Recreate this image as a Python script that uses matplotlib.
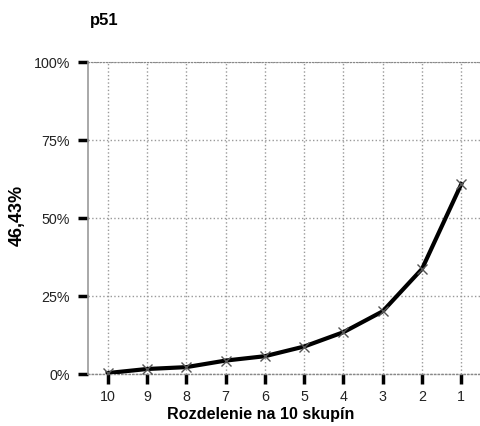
import numpy as np
import matplotlib
matplotlib.use('Agg')
import matplotlib.pyplot as plt

plt.rcParams['font.family'] = ['Liberation Sans', 'DejaVu Sans']

groups = ['10', '9', '8', '7', '6', '5', '4', '3', '2', '1']
values = [0.3, 1.6, 2.2, 4.3, 5.7, 8.8, 13.4, 20.1, 33.7, 60.9]
yticks = [0, 25, 50, 75, 100]
ylabels = ['0%', '25%', '50%', '75%', '100%']

fig = plt.figure(figsize=(4.81, 4.27), dpi=100)
ax = fig.add_axes([88 / 481, 52 / 427, 393 / 481, 312 / 427])

x = np.arange(len(groups))
ax.plot(x, values, color='black', lw=3, zorder=3)
ax.plot(x, values, ls='none', marker='x', ms=7, mew=1, color='#555555', zorder=4)

ax.set_xlim(-0.5, 9.5)
ax.set_ylim(0, 100)
ax.set_xticks(x)
ax.set_xticklabels(groups)
ax.set_yticks(yticks)
ax.set_yticklabels(ylabels)

ax.grid(True, ls=':', color='#999999', lw=1)
ax.set_axisbelow(True)
ax.tick_params(axis='both', direction='out', length=7, width=2.5, color='black',
               labelsize=10.3, labelcolor='#222222')
ax.tick_params(axis='x', pad=4)
ax.tick_params(axis='y', pad=6)

ax.spines['left'].set_color('#999999')
ax.spines['left'].set_linewidth(1.2)
ax.spines['bottom'].set_color('#888888')
ax.spines['bottom'].set_linewidth(1)
ax.spines['bottom'].set_linestyle(':')
ax.spines['top'].set_color('#888888')
ax.spines['top'].set_linestyle(':')
ax.spines['right'].set_color('#dddddd')

ax.set_xlabel('Rozdelenie na 10 skupín', fontsize=11.6, fontweight='bold')
ax.xaxis.set_label_coords((261 - 88) / 393, -(415 - 375) / 312)
ax.xaxis.label.set_va('center')
ax.set_ylabel('46,43%', fontsize=13, fontweight='bold')
ax.yaxis.set_label_coords(-(88 - 17) / 393, (375 - 215) / 312)
ax.yaxis.label.set_va('center')
fig.text(104 / 481, 1 - 20 / 427, 'p51', fontsize=12, fontweight='bold',
         ha='center', va='center')

fig.savefig('out.png', dpi=100)
